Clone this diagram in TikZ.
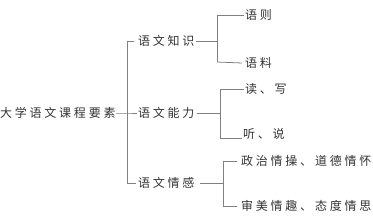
\documentclass[tikz,border=0pt]{standalone}
\usepackage{fontspec}
\newfontfamily\cjk[LetterSpace=23]{Noto Sans CJK SC}
\begin{document}
\begin{tikzpicture}[x=1pt,y=-1pt,
  txt/.style={anchor=west,inner sep=0pt,font=\cjk\fontsize{12}{12}\selectfont,text=black!80},
  ln/.style={draw=black!50,line width=0.8pt}]
\useasboundingbox (0,0) rectangle (373,218);
% nodes
\node[txt] (root) at (0,113) {大学语文课程要素};
\node[txt] (k) at (138,41) {语文知识};
\node[txt] (n) at (138,113) {语文能力};
\node[txt] (q) at (138,183) {语文情感};
\node[txt] (k1) at (245,15) {语则};
\node[txt] (k2) at (245,63) {语料};
\node[txt] (n1) at (245,89) {读、写};
\node[txt] (n2) at (243,134) {听、说};
\node[txt] (q1) at (241,161) {政治情操、道德情怀};
\node[txt] (q2) at (241,206) {审美情趣、态度情思};
% trunk
\coordinate (tt) at (127,41);
\coordinate (tb) at (127,183);
\draw[ln] (tt) -- (tb);
\draw[ln] (root.east) -- (root.east -| tt) -- ([xshift=-1pt]n.west);
\draw[ln] (tt) -- ([xshift=-4pt]k.west);
\draw[ln] (tb) -- ([xshift=-2pt]q.west);
% knowledge
\coordinate (kt) at (217,15);
\coordinate (kb) at (217,62);
\draw[ln] ([xshift=1pt]k.east) -- (k.east -| kt);
\draw[ln] (kt) -- (kb);
\draw[ln] (kt) -- ([xshift=-1pt]k1.west);
\draw[ln] (kb) -- ([xshift=-3pt]k2.west);
% ability
\coordinate (nt) at (220,89);
\coordinate (nb) at (220,138);
\draw[ln] ([xshift=2pt]n.east) -- (n.east -| nt);
\draw[ln] (nt) -- (nb);
\draw[ln] (nt) -- ([xshift=-1pt]n1.west);
\draw[ln] (nb) -- ([xshift=-1pt]n2.west |- nb);
% emotion
\coordinate (qt) at (223,161);
\coordinate (qb) at (223,206);
\draw[ln] ([xshift=5pt]q.east) -- (q.east -| qt);
\draw[ln] (qt) -- (qb);
\draw[ln] (qt) -- ([xshift=-4pt]q1.west);
\draw[ln] (qb) -- ([xshift=-4pt]q2.west);
\end{tikzpicture}
\end{document}
